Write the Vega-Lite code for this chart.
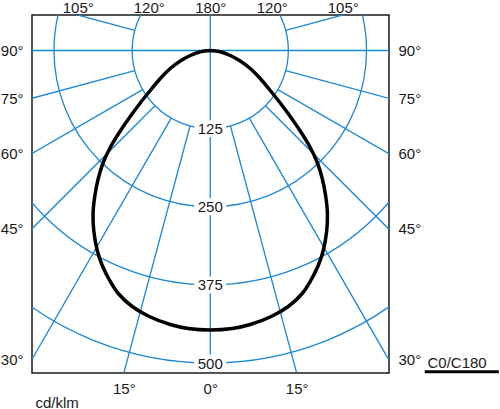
{
  "$schema": "https://vega.github.io/schema/vega-lite/v6.json",
  "width": 357,
  "height": 358,
  "autosize": {"type": "none"},
  "padding": {"left": 32, "top": 15, "right": 111, "bottom": 36},
  "background": "white",
  "config": {
    "font": "Liberation Sans",
    "view": {"stroke": "#1a1a1a", "strokeWidth": 1.5},
    "axis": {
      "domain": false, "ticks": false, "grid": false,
      "labelFont": "Liberation Sans", "labelFontSize": 15, "labelColor": "#1a1a1a",
      "labelOverlap": false, "labelFlush": false, "labelBound": false,
      "titleFont": "Liberation Sans", "titleFontSize": 15, "titleFontWeight": "normal", "titleColor": "#1a1a1a"
    }
  },
  "datasets": {
    "rays": [
      {"x": 0, "y": -1000, "x2": 0, "y2": 1000},
      {"x": -1000, "y": 0, "x2": 1000, "y2": 0},
      {"x": 32.35, "y": 120.74, "x2": 232.94, "y2": 869.33},
      {"x": 62.5, "y": 108.25, "x2": 450, "y2": 779.42},
      {"x": 88.39, "y": 88.39, "x2": 636.4, "y2": 636.4},
      {"x": 108.25, "y": 62.5, "x2": 779.42, "y2": 450},
      {"x": 120.74, "y": 32.35, "x2": 869.33, "y2": 232.94},
      {"x": 120.74, "y": -32.35, "x2": 869.33, "y2": -232.94},
      {"x": -32.35, "y": 120.74, "x2": -232.94, "y2": 869.33},
      {"x": -62.5, "y": 108.25, "x2": -450, "y2": 779.42},
      {"x": -88.39, "y": 88.39, "x2": -636.4, "y2": 636.4},
      {"x": -108.25, "y": 62.5, "x2": -779.42, "y2": 450},
      {"x": -120.74, "y": 32.35, "x2": -869.33, "y2": 232.94},
      {"x": -120.74, "y": -32.35, "x2": -869.33, "y2": -232.94}
    ],
    "rings": [
      {"r": 125}, {"r": 250}, {"r": 375}, {"r": 500}
    ],
    "curve": [
      {"i": 0, "x": 0, "y": 0},
      {"i": 1, "x": -16, "y": 2.08},
      {"i": 2, "x": -32, "y": 8},
      {"i": 3, "x": -48, "y": 16.8},
      {"i": 4, "x": -64, "y": 28.8},
      {"i": 5, "x": -80, "y": 44.8},
      {"i": 6, "x": -96, "y": 64},
      {"i": 7, "x": -112, "y": 84},
      {"i": 8, "x": -128, "y": 105.6},
      {"i": 9, "x": -144, "y": 128.8},
      {"i": 10, "x": -160, "y": 155.2},
      {"i": 11, "x": -171.2, "y": 179.2},
      {"i": 12, "x": -179.2, "y": 204.8},
      {"i": 13, "x": -184.8, "y": 233.6},
      {"i": 14, "x": -187.5, "y": 260.8},
      {"i": 15, "x": -186.4, "y": 288},
      {"i": 16, "x": -180.8, "y": 320},
      {"i": 17, "x": -172.8, "y": 344},
      {"i": 18, "x": -160.8, "y": 368},
      {"i": 19, "x": -147.2, "y": 388.8},
      {"i": 20, "x": -124.8, "y": 409.6},
      {"i": 21, "x": -97.6, "y": 425.6},
      {"i": 22, "x": -64, "y": 438.4},
      {"i": 23, "x": -35.2, "y": 444.8},
      {"i": 24, "x": 0, "y": 447.2},
      {"i": 25, "x": 35.2, "y": 444.8},
      {"i": 26, "x": 64, "y": 438.4},
      {"i": 27, "x": 97.6, "y": 425.6},
      {"i": 28, "x": 124.8, "y": 409.6},
      {"i": 29, "x": 147.2, "y": 388.8},
      {"i": 30, "x": 160.8, "y": 368},
      {"i": 31, "x": 172.8, "y": 344},
      {"i": 32, "x": 180.8, "y": 320},
      {"i": 33, "x": 186.4, "y": 288},
      {"i": 34, "x": 187.5, "y": 260.8},
      {"i": 35, "x": 184.8, "y": 233.6},
      {"i": 36, "x": 179.2, "y": 204.8},
      {"i": 37, "x": 171.2, "y": 179.2},
      {"i": 38, "x": 160, "y": 155.2},
      {"i": 39, "x": 144, "y": 128.8},
      {"i": 40, "x": 128, "y": 105.6},
      {"i": 41, "x": 112, "y": 84},
      {"i": 42, "x": 96, "y": 64},
      {"i": 43, "x": 80, "y": 44.8},
      {"i": 44, "x": 64, "y": 28.8},
      {"i": 45, "x": 48, "y": 16.8},
      {"i": 46, "x": 32, "y": 8},
      {"i": 47, "x": 16, "y": 2.08},
      {"i": 48, "x": 0, "y": 0}
    ]
  },
  "resolve": {"axis": {"x": "independent", "y": "independent"}},
  "layer": [
    {
      "data": {"name": "rays"},
      "mark": {"type": "rule", "color": "#1b87d4", "strokeWidth": 1.3, "clip": true},
      "encoding": {
        "x": {"field": "x", "type": "quantitative",
              "scale": {"domain": [-285.2, 286], "nice": false, "zero": false},
              "axis": {"orient": "bottom", "values": [-138.3, 0, 138.3], "labelPadding": 20, "labelBaseline": "alphabetic",
                       "labelExpr": "datum.value == 0 ? '0°' : '15°'",
                       "title": "cd/klm", "titleX": 3, "titleY": 34, "titleAlign": "left", "titleBaseline": "alphabetic", "titleAnchor": null}},
        "y": {"field": "y", "type": "quantitative",
              "scale": {"domain": [-56.8, 516], "nice": false, "zero": false, "reverse": true},
              "axis": {"orient": "left", "values": [0, 76.4, 164.7, 285.2, 494], "labelPadding": 9, "title": null,
                       "labelExpr": "datum.value < 10 ? '90°' : datum.value < 100 ? '75°' : datum.value < 200 ? '60°' : datum.value < 400 ? '45°' : '30°'"}},
        "x2": {"field": "x2"},
        "y2": {"field": "y2"}
      }
    },
    {
      "data": {"name": "rings"},
      "mark": {"type": "point", "shape": "circle", "filled": false, "color": "#1b87d4", "strokeWidth": 1.3, "opacity": 1, "clip": true},
      "encoding": {
        "x": {"datum": 0, "type": "quantitative", "scale": {"domain": [-285.2, 286], "nice": false, "zero": false}, "axis": null},
        "y": {"datum": 0, "type": "quantitative", "scale": {"domain": [-56.8, 516], "nice": false, "zero": false, "reverse": true}, "axis": null},
        "size": {"field": "r", "type": "quantitative", "legend": null,
                 "scale": {"type": "pow", "exponent": 2, "domain": [0, 500], "range": [0, 390625]}}
      }
    },
    {
      "data": {"name": "rings"},
      "mark": {"type": "point", "shape": "M-1,-0.53L1,-0.53L1,0.53L-1,0.53Z", "filled": true, "fill": "white", "strokeWidth": 0, "opacity": 1, "size": 1024},
      "encoding": {
        "x": {"datum": 0, "type": "quantitative", "scale": {"domain": [-285.2, 286], "nice": false, "zero": false}, "axis": null},
        "y": {"field": "r", "type": "quantitative", "scale": {"domain": [-56.8, 516], "nice": false, "zero": false, "reverse": true}, "axis": null}
      }
    },
    {
      "data": {"name": "rings"},
      "mark": {"type": "text", "font": "Liberation Sans", "fontSize": 15, "color": "#1a1a1a", "baseline": "middle", "align": "center", "dy": 0.5},
      "encoding": {
        "x": {"datum": 0, "type": "quantitative", "scale": {"domain": [-285.2, 286], "nice": false, "zero": false}, "axis": null},
        "y": {"field": "r", "type": "quantitative", "scale": {"domain": [-56.8, 516], "nice": false, "zero": false, "reverse": true}, "axis": null},
        "text": {"field": "r", "type": "quantitative"}
      }
    },
    {
      "data": {"name": "curve"},
      "mark": {"type": "line", "color": "#000000", "strokeWidth": 3.5, "interpolate": "catmull-rom", "strokeJoin": "round", "clip": true},
      "encoding": {
        "x": {"field": "x", "type": "quantitative",
              "scale": {"domain": [-285.2, 286], "nice": false, "zero": false},
              "axis": {"orient": "top", "values": [-212, -98.4, 0, 98.4, 212], "labelPadding": 3, "labelBaseline": "alphabetic", "title": null,
                       "labelExpr": "abs(datum.value) > 150 ? '105°' : abs(datum.value) > 50 ? '120°' : '180°'"}},
        "y": {"field": "y", "type": "quantitative",
              "scale": {"domain": [-56.8, 516], "nice": false, "zero": false, "reverse": true},
              "axis": {"orient": "right", "values": [0, 76.4, 164.7, 285.2, 494], "labelPadding": 9,
                       "labelExpr": "datum.value < 10 ? '90°' : datum.value < 100 ? '75°' : datum.value < 200 ? '60°' : datum.value < 400 ? '45°' : '30°'",
                       "title": "C0/C180", "titleAngle": 0, "titleX": 38, "titleY": 352, "titleAlign": "left", "titleBaseline": "alphabetic", "titleAnchor": null}},
        "order": {"field": "i", "type": "quantitative"}
      }
    },
    {
      "data": {"values": [{"series": "C0/C180"}]},
      "mark": {"type": "rule", "color": "#000000", "strokeWidth": 3, "clip": false},
      "encoding": {
        "x": {"datum": 343.2, "type": "quantitative", "scale": {"domain": [-285.2, 286], "nice": false, "zero": false}, "axis": null},
        "x2": {"datum": 461.6},
        "y": {"datum": 514, "type": "quantitative", "scale": {"domain": [-56.8, 516], "nice": false, "zero": false, "reverse": true}, "axis": null}
      }
    }
  ]
}
